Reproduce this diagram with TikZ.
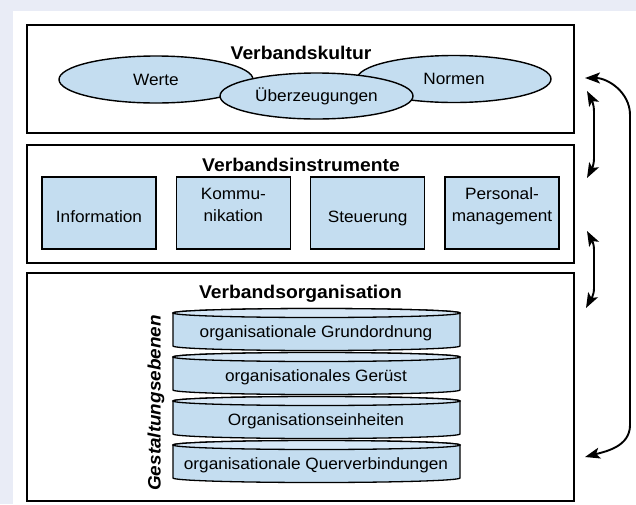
\documentclass[tikz,border=0pt]{standalone}
\usepackage{fontspec}
\setmainfont{Liberation Sans}[FakeStretch=1.05]
\usetikzlibrary{arrows.meta,shapes.geometric}

\definecolor{pagegrey}{RGB}{233,236,246}
\definecolor{lightblue}{RGB}{196,221,240}
\definecolor{paleblue}{RGB}{214,231,246}

\tikzset{
  panel/.style={draw,line width=2.4pt,inner sep=0pt},
  heading/.style={font=\fontsize{18.4}{21}\selectfont\bfseries,anchor=base},
  txt/.style={font=\fontsize{16.4}{22}\selectfont,align=center},
  blob/.style={ellipse,draw,line width=1.4pt,fill=lightblue,minimum width=194pt,minimum height=47pt,inner sep=0pt,font=\fontsize{16.4}{19}\selectfont},
  tool/.style={rectangle,draw,line width=1.4pt,fill=lightblue,minimum width=114pt,minimum height=72pt,inner sep=0pt},
  cyl/.style={draw,line width=1.3pt,fill=lightblue},
  cyltop/.style={draw,line width=1.3pt,fill=paleblue},
  link/.style={line width=1.9pt,<->,>={Stealth[length=15pt,width=11pt,inset=3.5pt]}}
}

\begin{document}
\begin{tikzpicture}[x=1pt,y=1pt]
\useasboundingbox (0,0) rectangle (636,-504);
\fill[pagegrey] (0,0) rectangle (636,-504);
\fill[white] (13,-11) rectangle (636,-504);

% Verbandskultur
\node[panel,minimum width=547pt,minimum height=108pt] (kultur) at (300.5,-79) {};
\node[heading] (kulturtitle) at (301,-59) {Verbandskultur};
\node[blob] (werte) at (156,-79.5) {Werte};
\node[blob] (normen) at (454,-79) {Normen};
\node[blob,minimum width=193pt,minimum height=46pt] (ueber) at (316.5,-96) {Überzeugungen};

% Verbandsinstrumente
\node[panel,minimum width=547pt,minimum height=118pt] (instr) at (300.5,-204) {};
\node[heading] (instrtitle) at (301,-171) {Verbandsinstrumente};
\node[tool] (infobox) at (99,-213) {};
\node[tool] (kommbox) at (233.3,-213) {};
\node[tool] (steuerbox) at (367.6,-213) {};
\node[tool] (persbox) at (502,-213) {};
\node[txt,anchor=base] (info) at (infobox.center |- 0,-222) {Information};
\node[txt] (komm) at (kommbox.center |- 0,-205) {Kommu-\\nikation};
\node[txt,anchor=base] (steuer) at (steuerbox.center |- 0,-222) {Steuerung};
\node[txt] (pers) at (persbox.center |- 0,-206) {Personal-\\management};

% Verbandsorganisation
\node[panel,minimum width=547pt,minimum height=228pt] (orga) at (300.5,-387) {};
\node[heading] (orgatitle) at (300.5,-298.5) {Verbandsorganisation};
\node[font=\fontsize{18}{20}\selectfont\bfseries\itshape,rotate=90] (ebenen) at (156,-403) {Gestaltungsebenen};

\filldraw[cyl] (173,-313) -- (173,-346) arc[start angle=180,end angle=360,x radius=143.5,y radius=4.5] -- (460,-313) arc[start angle=0,end angle=180,x radius=143.5,y radius=4.5] -- cycle;
\filldraw[cyltop] (316.5,-313) ellipse[x radius=143.5,y radius=4.5];
\node[txt,anchor=base] (grund) at (316,-337) {organisationale Grundordnung};

\filldraw[cyl] (173,-357) -- (173,-390) arc[start angle=180,end angle=360,x radius=143.5,y radius=4.5] -- (460,-357) arc[start angle=0,end angle=180,x radius=143.5,y radius=4.5] -- cycle;
\filldraw[cyltop] (316.5,-357) ellipse[x radius=143.5,y radius=4.5];
\node[txt,anchor=base] (geruest) at (316,-381) {organisationales Gerüst};

\filldraw[cyl] (173,-401) -- (173,-434) arc[start angle=180,end angle=360,x radius=143.5,y radius=4.5] -- (460,-401) arc[start angle=0,end angle=180,x radius=143.5,y radius=4.5] -- cycle;
\filldraw[cyltop] (316.5,-401) ellipse[x radius=143.5,y radius=4.5];
\node[txt,anchor=base] (einheiten) at (316,-425) {Organisationseinheiten};

\filldraw[cyl] (173,-445) -- (173,-478) arc[start angle=180,end angle=360,x radius=143.5,y radius=4.5] -- (460,-445) arc[start angle=0,end angle=180,x radius=143.5,y radius=4.5] -- cycle;
\filldraw[cyltop] (316.5,-445) ellipse[x radius=143.5,y radius=4.5];
\node[txt,anchor=base] (quer) at (316,-469) {organisationale Querverbindungen};

% Rueckkopplungen
\coordinate (kA) at (585,-78);
\coordinate (kB) at (585,-457);
\coordinate (sA) at (587,-91);
\coordinate (sB) at (587,-178);
\coordinate (sC) at (587,-231);
\coordinate (sD) at (586,-308);

\draw[link] (kA) to[out=0,in=90] (630,-115) -- (630,-425) to[out=-90,in=15] (kB);
\draw[link] (sA) to[out=-62,in=90] (594,-112) -- (594,-158) to[out=-90,in=62] (sB);
\draw[link] (sC) to[out=-62,in=90] (594,-250) -- (594,-288) to[out=-90,in=62] (sD);
\end{tikzpicture}
\end{document}
